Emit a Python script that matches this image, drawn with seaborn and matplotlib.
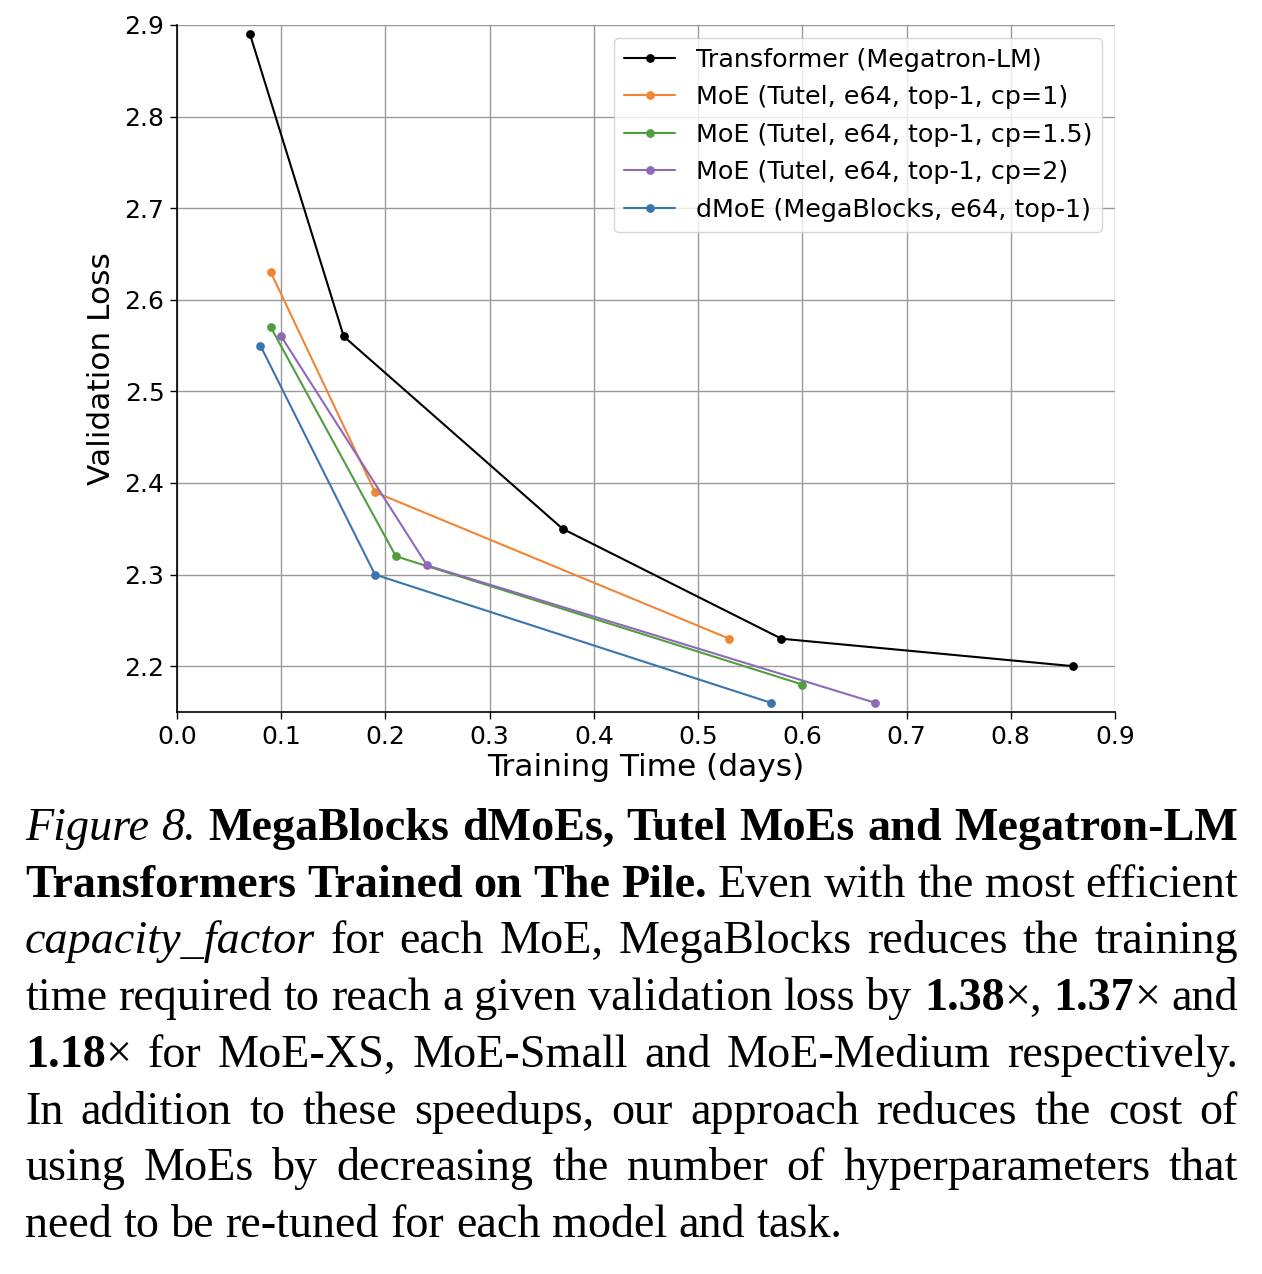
import matplotlib
matplotlib.use("Agg")
import matplotlib.pyplot as plt
import seaborn as sns
import pandas as pd

# ---------------- data ----------------
series_labels = [
    "Transformer (Megatron-LM)",
    "MoE (Tutel, e64, top-1, cp=1)",
    "MoE (Tutel, e64, top-1, cp=1.5)",
    "MoE (Tutel, e64, top-1, cp=2)",
    "dMoE (MegaBlocks, e64, top-1)",
]
transformer_time = [0.07, 0.16, 0.37, 0.58, 0.86]
transformer_loss = [2.89, 2.56, 2.35, 2.23, 2.20]
moe_cp1_time = [0.09, 0.19, 0.53]
moe_cp1_loss = [2.63, 2.39, 2.23]
moe_cp15_time = [0.09, 0.21, 0.60]
moe_cp15_loss = [2.57, 2.32, 2.18]
moe_cp2_time = [0.10, 0.24, 0.67]
moe_cp2_loss = [2.56, 2.31, 2.16]
dmoe_time = [0.08, 0.19, 0.57]
dmoe_loss = [2.55, 2.30, 2.16]

x_ticks = [0.0, 0.1, 0.2, 0.3, 0.4, 0.5, 0.6, 0.7, 0.8, 0.9]
y_ticks = [2.2, 2.3, 2.4, 2.5, 2.6, 2.7, 2.8, 2.9]

colors = ["#000000", "#ef8636", "#519e3e", "#8d6ab8", "#3b75af"]

caption_lines = [
    [[("Figure", "i")], [("8.", "i")], [("MegaBlocks", "b")], [("dMoEs,", "b")], [("Tutel", "b")],
     [("MoEs", "b")], [("and", "b")], [("Megatron-LM", "b")]],
    [[("Transformers", "b")], [("Trained", "b")], [("on", "b")], [("The", "b")], [("Pile.", "b")],
     [("Even", "n")], [("with", "n")], [("the", "n")], [("most", "n")], [("efficient", "n")]],
    [[("capacity_factor", "i")], [("for", "n")], [("each", "n")], [("MoE,", "n")], [("MegaBlocks", "n")],
     [("reduces", "n")], [("the", "n")], [("training", "n")]],
    [[("time", "n")], [("required", "n")], [("to", "n")], [("reach", "n")], [("a", "n")], [("given", "n")],
     [("validation", "n")], [("loss", "n")], [("by", "n")], [("1.38", "b"), ("×,", "n")],
     [("1.37", "b"), ("×", "n")], [("and", "n")]],
    [[("1.18", "b"), ("×", "n")], [("for", "n")], [("MoE-XS,", "n")], [("MoE-Small", "n")], [("and", "n")],
     [("MoE-Medium", "n")], [("respectively.", "n")]],
    [[(w, "n")] for w in "In addition to these speedups, our approach reduces the cost of".split()],
    [[(w, "n")] for w in "using MoEs by decreasing the number of hyperparameters that".split()],
    [[(w, "n")] for w in "need to be re-tuned for each model and task.".split()],
]

# ---------------- figure ----------------
W, H = 1262, 1274
sns.set_theme(style="ticks")
plt.rcParams["font.family"] = ["DejaVu Sans"]
plt.rcParams["text.color"] = "black"
plt.rcParams["axes.labelcolor"] = "black"
fig = plt.figure(figsize=(W / 100, H / 100), dpi=100)
ax = fig.add_axes([177 / W, 1 - 712 / H, (1115 - 177) / W, (712 - 25) / H])

all_series = [
    (transformer_time, transformer_loss),
    (moe_cp1_time, moe_cp1_loss),
    (moe_cp15_time, moe_cp15_loss),
    (moe_cp2_time, moe_cp2_loss),
    (dmoe_time, dmoe_loss),
]
for (xs, ys), lab, col in zip(all_series, series_labels, colors):
    df = pd.DataFrame({"time": xs, "loss": ys})
    sns.lineplot(data=df, x="time", y="loss", ax=ax, color=col, label=lab,
                 marker="o", markersize=6.3, markeredgewidth=0, linewidth=1.5,
                 sort=False, estimator=None)

ax.set_xlim(0.0, 0.9)
ax.set_ylim(2.15, 2.9)
ax.set_xticks(x_ticks)
ax.set_xticklabels([f"{v:.1f}" for v in x_ticks])
ax.set_yticks(y_ticks)
ax.set_yticklabels([f"{v:.1f}" for v in y_ticks])
ax.tick_params(axis="both", labelsize=18, length=5, width=1, color="black", labelcolor="black", pad=4)
ax.grid(True, color="#9a9a9a", linewidth=1)
ax.set_axisbelow(True)
for s in ["top", "right"]:
    ax.spines[s].set_visible(False)
for s in ["left", "bottom"]:
    ax.spines[s].set_color("black")
    ax.spines[s].set_linewidth(1.2)
ax.set_xlabel("Training Time (days)", fontsize=22.5, color="black", labelpad=3)
ax.set_ylabel("Validation Loss", fontsize=22.5, color="black", labelpad=6)

leg = ax.legend(loc="upper right", fontsize=18.3, handlelength=2.0, labelspacing=0.53,
                borderaxespad=0.5, frameon=True, fancybox=True, framealpha=0.8,
                edgecolor="#cccccc")
for t in leg.get_texts():
    t.set_color("black")

# ---------------- caption ----------------
renderer = fig.canvas.get_renderer()
styles = {
    "n": dict(family="Liberation Serif"),
    "b": dict(family="Liberation Serif", weight="bold"),
    "i": dict(family="Liberation Serif", style="italic"),
}


def text_width(s, st, fs):
    t = fig.text(0, 0, s, fontsize=fs, **styles[st])
    w = t.get_window_extent(renderer).width
    t.remove()
    return w


# fit font size so that the last (natural) line is ~820 px wide
probe = "need to be re-tuned for each model and task."
FS = 30 * 820 / text_width(probe, "n", 30)
space_w = text_width("a a", "n", FS) - text_width("aa", "n", FS)

L, R = 25, 1238
base0, step = 840, 56.7
for i, line in enumerate(caption_lines):
    widths = [[text_width(s, st, FS) for s, st in word] for word in line]
    tot = sum(sum(w) for w in widths)
    justify = i < len(caption_lines) - 1 and len(line) > 1
    gap = (R - L - tot) / (len(line) - 1) if justify else space_w
    x = L
    y = base0 + step * i
    for word, ws in zip(line, widths):
        for (s, st), w in zip(word, ws):
            fig.text(x / W, 1 - y / H, s, fontsize=FS, va="baseline", ha="left",
                     color="black", **styles[st])
            x += w
        x += gap

fig.savefig("out.png", dpi=100)
